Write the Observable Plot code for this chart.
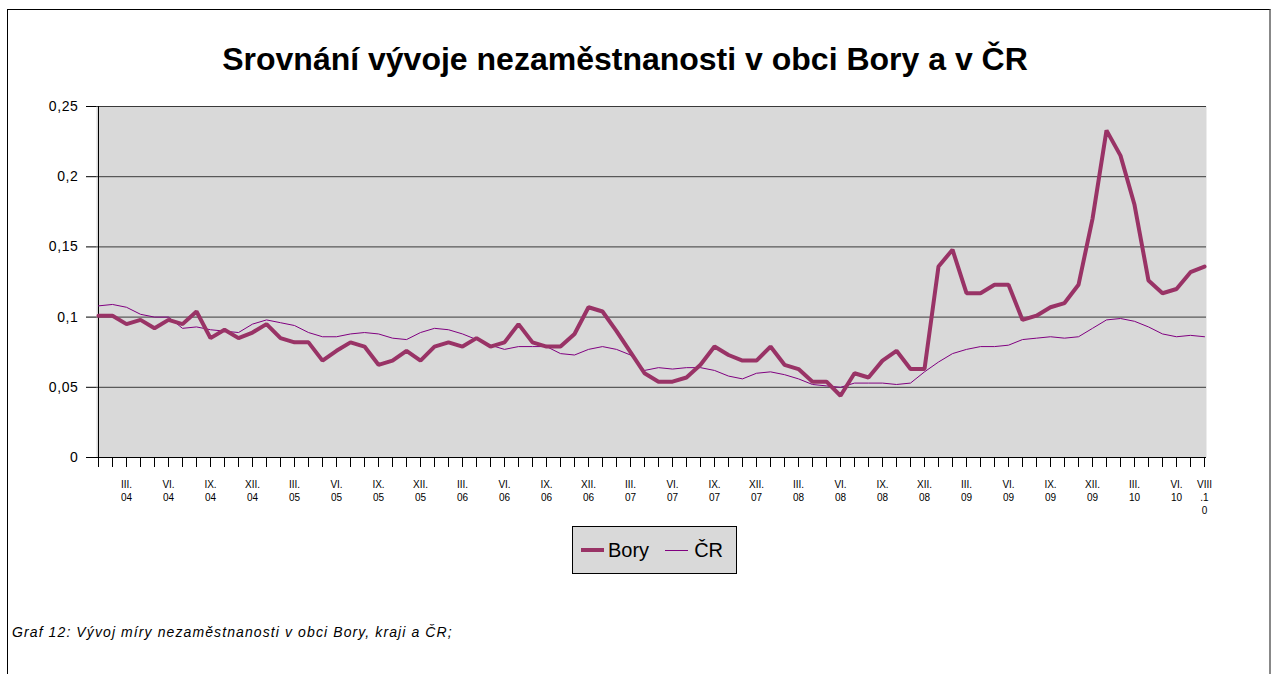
<!DOCTYPE html>
<html>
<head>
<meta charset="utf-8">
<script src="https://cdn.jsdelivr.net/npm/d3@7"></script>
<script src="https://cdn.jsdelivr.net/npm/@observablehq/plot@0.6"></script>
<style>
  html, body { margin: 0; padding: 0; background: #fff; }
  body { font-family: "Liberation Sans", Arial, sans-serif; }
  #page { position: relative; width: 1271px; height: 674px; overflow: hidden; }
  #frame { position: absolute; left: 7px; top: 9px; width: 1261px; height: 700px;
           border-left: 1px solid #000; border-top: 1px solid #000; border-right: 2px solid #888; }
  #title { position: absolute; left: 0; width: 1250px; top: 41px; text-align: center;
           font-weight: bold; font-size: 32px; color: #000; }
  #chart { position: absolute; left: 0; top: 0; }
  #chart g[aria-label="y-axis tick label"] text { letter-spacing: 0.6px; }
  #legend { position: absolute; left: 572px; top: 526px; width: 163px; height: 46px;
            border: 1px solid #000; background: #d9d9d9; display: flex; align-items: center;
            font-size: 20px; color: #000; }
  .sw { display: inline-block; width: 23px; margin-left: 8px; margin-right: 4px; }
  #caption { position: absolute; left: 12px; top: 624px; font-style: italic; font-size: 14px;
             letter-spacing: 1.1px; color: #000; }
</style>
</head>
<body>
<div id="page">
  <div id="frame"></div>
  <div id="chart"></div>
  <div id="title">Srovnání vývoje nezaměstnanosti v obci Bory a v ČR</div>
  <div id="legend">
    <span class="sw" style="height:4px;background:#993366"></span><span>Bory</span>
    <span class="sw" style="height:1px;background:#800080;margin-left:16px;margin-right:6px"></span><span>ČR</span>
  </div>
  <div id="caption">Graf 12: Vývoj míry nezaměstnanosti v obci Bory, kraji a ČR;</div>
</div>
<script>
const months = [
  "I.04","II.04","III.04","IV.04","V.04","VI.04","VII.04","VIII.04","IX.04","X.04","XI.04","XII.04",
  "I.05","II.05","III.05","IV.05","V.05","VI.05","VII.05","VIII.05","IX.05","X.05","XI.05","XII.05",
  "I.06","II.06","III.06","IV.06","V.06","VI.06","VII.06","VIII.06","IX.06","X.06","XI.06","XII.06",
  "I.07","II.07","III.07","IV.07","V.07","VI.07","VII.07","VIII.07","IX.07","X.07","XI.07","XII.07",
  "I.08","II.08","III.08","IV.08","V.08","VI.08","VII.08","VIII.08","IX.08","X.08","XI.08","XII.08",
  "I.09","II.09","III.09","IV.09","V.09","VI.09","VII.09","VIII.09","IX.09","X.09","XI.09","XII.09",
  "I.10","II.10","III.10","IV.10","V.10","VI.10","VII.10","VIII.10"
];

const bory = [
  0.101,0.101,0.095,0.098,0.092,0.098,0.095,0.104,0.085,0.091,0.085,0.089,
  0.095,0.085,0.082,0.082,0.069,0.076,0.082,0.079,0.066,0.069,0.076,0.069,
  0.079,0.082,0.079,0.085,0.079,0.082,0.095,0.082,0.079,0.079,0.088,0.107,
  0.104,0.090,0.075,0.060,0.054,0.054,0.057,0.066,0.079,0.073,0.069,0.069,
  0.079,0.066,0.063,0.054,0.054,0.044,0.060,0.057,0.069,0.076,0.063,0.063,
  0.136,0.148,0.117,0.117,0.123,0.123,0.098,0.101,0.107,0.110,0.123,0.170,
  0.233,0.215,0.180,0.126,0.117,0.120,0.132,0.136
];

const cr = [
  0.108,0.109,0.107,0.102,0.100,0.100,0.092,0.093,0.091,0.090,0.089,0.095,
  0.098,0.096,0.094,0.089,0.086,0.086,0.088,0.089,0.088,0.085,0.084,0.089,
  0.092,0.091,0.088,0.084,0.080,0.077,0.079,0.079,0.079,0.074,0.073,0.077,
  0.079,0.077,0.073,0.062,0.064,0.063,0.064,0.064,0.062,0.058,0.056,0.060,
  0.061,0.059,0.056,0.052,0.051,0.050,0.053,0.053,0.053,0.052,0.053,0.061,
  0.068,0.074,0.077,0.079,0.079,0.080,0.084,0.085,0.086,0.085,0.086,0.092,
  0.098,0.099,0.097,0.093,0.088,0.086,0.087,0.086
];

const shownTicks = [
  "III.04","VI.04","IX.04","XII.04","III.05","VI.05","IX.05","XII.05",
  "III.06","VI.06","IX.06","XII.06","III.07","VI.07","IX.07","XII.07",
  "III.08","VI.08","IX.08","XII.08","III.09","VI.09","IX.09","XII.09",
  "III.10","VI.10","VIII.10"
];
const shownTickText = [
  "III.\n04","VI.\n04","IX.\n04","XII.\n04","III.\n05","VI.\n05","IX.\n05","XII.\n05",
  "III.\n06","VI.\n06","IX.\n06","XII.\n06","III.\n07","VI.\n07","IX.\n07","XII.\n07",
  "III.\n08","VI.\n08","IX.\n08","XII.\n08","III.\n09","VI.\n09","IX.\n09","XII.\n09",
  "III.\n10","VI.\n10","VIII\n.1\n0"
];

const yTicks = [0, 0.05, 0.1, 0.15, 0.2, 0.25];
const yTickText = ["0", "0,05", "0,1", "0,15", "0,2", "0,25"];

const boryData = months.map((m, i) => ({month: m, value: bory[i]}));
const crData = months.map((m, i) => ({month: m, value: cr[i]}));
const xLabel = new Map(shownTicks.map((t, i) => [t, shownTickText[i]]));
const yLabel = new Map(yTicks.map((t, i) => [t, yTickText[i]]));

const chart = Plot.plot({
  width: 1271,
  height: 520,
  marginLeft: 96,
  marginRight: 65,
  marginTop: 106,
  marginBottom: 63,
  style: {fontFamily: "'Liberation Sans', Arial, sans-serif", background: "transparent", color: "#000", overflow: "visible"},
  x: {type: "point", domain: months, padding: 0},
  y: {domain: [0, 0.25]},
  marks: [
    Plot.frame({fill: "#d9d9d9", stroke: null}),
    Plot.ruleY(yTicks, {stroke: "#3a3a3a", strokeWidth: 1}),
    Plot.axisY({ticks: yTicks, tickSize: 10, tickPadding: 8, fontSize: 14, tickFormat: d => yLabel.get(d), label: null}),
    Plot.axisX({ticks: months, tickSize: 10, tickFormat: () => "", label: null}),
    Plot.axisX({ticks: shownTicks, tickSize: 0, tickPadding: 21, fontSize: 10, lineHeight: 1.3, tickFormat: d => xLabel.get(d), label: null}),
    Plot.ruleX([months[0]], {stroke: "#000"}),
    Plot.ruleY([0], {stroke: "#000"}),
    Plot.line(crData, {x: "month", y: "value", stroke: "#800080", strokeWidth: 1}),
    Plot.line(boryData, {x: "month", y: "value", stroke: "#993366", strokeWidth: 4, strokeLinejoin: "miter"})
  ]
});
document.getElementById("chart").appendChild(chart);
</script>
</body>
</html>
